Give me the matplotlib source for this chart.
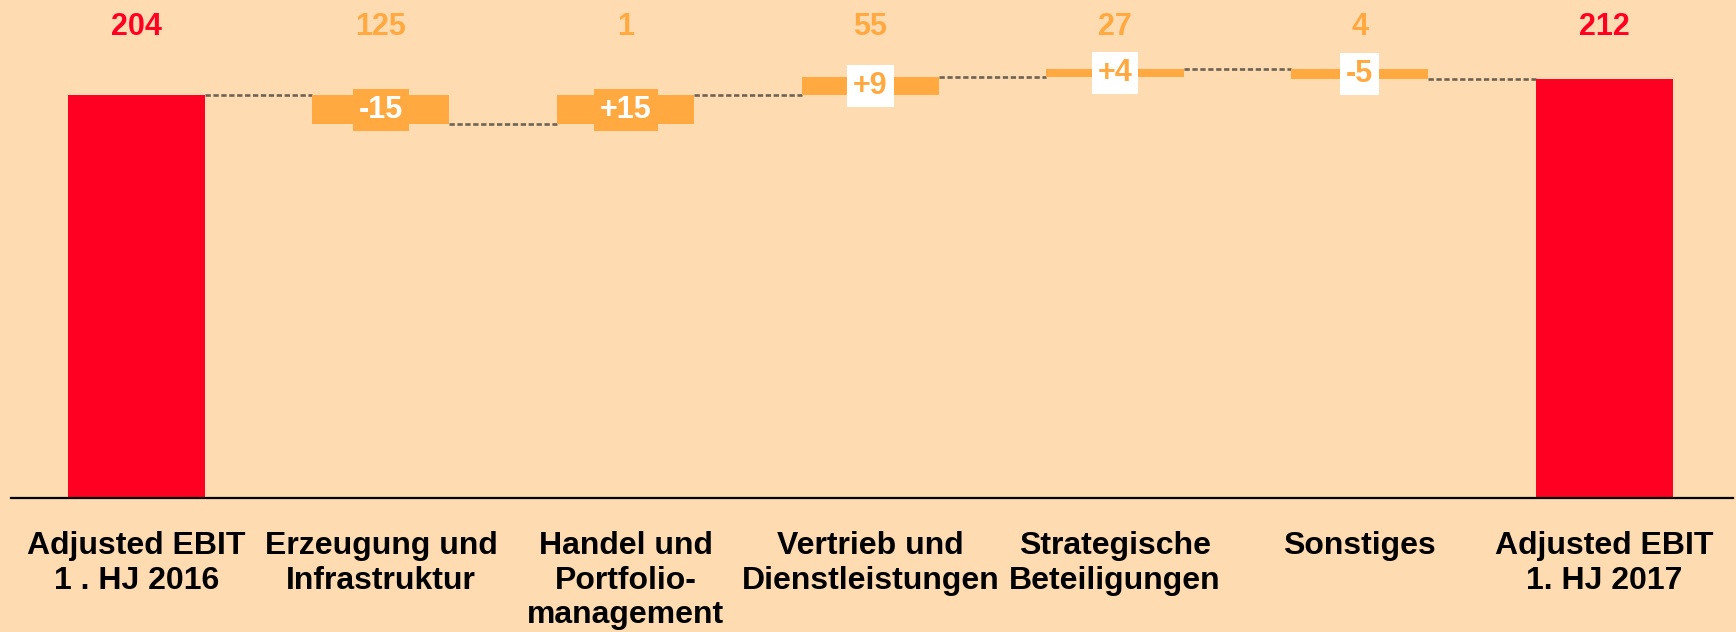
import matplotlib.pyplot as plt

# waterfall data (EUR m)
categories = ["Adjusted EBIT\n1 . HJ 2016", "Erzeugung und\nInfrastruktur", "Handel und\nPortfolio-\nmanagement",
              "Vertrieb und\nDienstleistungen", "Strategische\nBeteiligungen", "Sonstiges", "Adjusted EBIT\n1. HJ 2017"]
start_value = 204
deltas = [-15, 15, 9, 4, -5]
end_value = 212
top_labels = [204, 125, 1, 55, 27, 4, 212]

BG = "#FFDBB1"
RED = "#FF0022"
ORANGE = "#FFA940"
FONT = "Liberation Sans"

plt.rcParams['font.family'] = [FONT, 'DejaVu Sans']

fig = plt.figure(figsize=(17.36, 6.32), dpi=100, facecolor=BG)
ax = fig.add_axes([11 / 1736, 134.3 / 632, 1722 / 1736, 497.7 / 632])
ax.set_facecolor(BG)

width = 0.56
n = len(categories)
xs = list(range(n))

# start and end totals
ax.bar(xs[0], start_value, width=width, color=RED, zorder=2)
ax.bar(xs[-1], end_value, width=width, color=RED, zorder=2)

# delta bars
running = start_value
levels = [start_value]
for i, d in enumerate(deltas):
    x = xs[i + 1]
    bottom = min(running, running + d)
    ax.bar(x, abs(d), bottom=bottom, width=width, color=ORANGE, zorder=2)
    mid = bottom + abs(d) / 2
    txt = f"{d:+d}"
    if abs(d) >= 10:
        fc, tc = ORANGE, 'white'
    else:
        fc, tc = 'white', ORANGE
    ax.text(x, mid, txt, ha='center', va='center', color=tc, fontsize=22, fontweight='bold', zorder=4,
            bbox=dict(boxstyle='square,pad=0.2', fc=fc, ec='none'))
    running += d
    levels.append(running)

# dashed connectors
for i in range(n - 1):
    ax.plot([xs[i] + width / 2, xs[i + 1] - width / 2], [levels[i], levels[i]],
            color='#6e6255', lw=1.9, ls=(0, (2, 1)), zorder=1)

# values on top
for i, v in enumerate(top_labels):
    c = RED if i in (0, n - 1) else ORANGE
    ax.text(xs[i], 238.5, str(v), ha='center', va='center', color=c, fontsize=22, fontweight='bold')

ax.set_xlim(-0.5117, 6.5256)
ax.set_ylim(0, 252)
ax.set_yticks([])
ax.set_xticks(xs, categories, fontsize=23, fontweight='bold', linespacing=1.2)
ax.tick_params(axis='x', length=0, pad=24)
for s in ['top', 'left', 'right']:
    ax.spines[s].set_visible(False)
ax.spines['bottom'].set_linewidth(1.6)
ax.spines['bottom'].set_color('black')

fig.savefig('out.png', dpi=100, facecolor=BG)
